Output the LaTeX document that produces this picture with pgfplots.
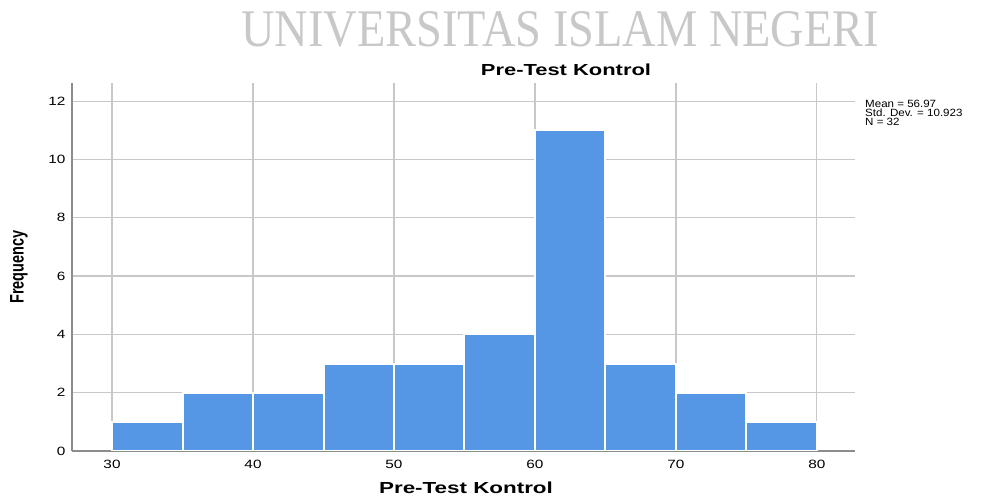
\documentclass[border=0pt]{standalone}
\usepackage{pgfplots}
\pgfplotsset{compat=1.18}
\usepackage{graphicx}
\usepackage{fontspec}
\setmainfont{Liberation Sans}
\newfontfamily\wmfont{Liberation Serif}
\definecolor{barblue}{RGB}{85,150,229}
\definecolor{gridgrey}{RGB}{200,200,200}
\definecolor{axgrey}{RGB}{140,140,140}
\definecolor{wmgrey}{RGB}{200,200,200}
\newcommand{\wide}[2]{\scalebox{#1}[1]{#2}}
\begin{document}
\begin{tikzpicture}[x=1pt,y=1pt]
\useasboundingbox (0,0) rectangle (987,495);
\node[anchor=south west, inner sep=0pt, text=wmgrey] at (241,447) {\resizebox{638pt}{35pt}{\wmfont UNIVERSITAS ISLAM NEGERI}};
\begin{axis}[
  at={(72pt,44pt)}, anchor=origin,
  scale only axis, width=783pt, height=368pt,
  xmin=27.16, xmax=82.7, ymin=0, ymax=12.62,
  axis x line*=bottom, axis y line*=left,
  axis line style={axgrey, line width=1.2pt, -},
  xtick={30,40,50,60,70,80},
  ytick={0,2,4,6,8,10,12},
  major tick length=0pt,
  xmajorgrids, ymajorgrids,
  grid style={gridgrey, line width=1.1pt},
  tick label style={font=\fontsize{12}{13}\selectfont, text=black},
  xticklabel={\wide{1.28}{\pgfmathprintnumber[assume math mode=true]{\tick}}},
  yticklabel={\wide{1.28}{\pgfmathprintnumber[assume math mode=true]{\tick}}},
  xticklabel style={yshift=-6pt},
  yticklabel style={xshift=-3pt},
]
\addplot[ybar interval, fill=barblue, draw=white, line width=2pt] coordinates {
 (30,1) (35,2) (40,2) (45,3) (50,3) (55,4) (60,11) (65,3) (70,2) (75,1) (80,1)
};
\end{axis}
\node[anchor=base, inner sep=0pt, font=\fontsize{16}{18}\selectfont\bfseries] at (566,419) {\wide{1.37}{Pre-Test Kontrol}};
\node[anchor=base, inner sep=0pt, font=\fontsize{16}{18}\selectfont\bfseries] at (466,2) {\wide{1.4}{Pre-Test Kontrol}};
\node[rotate=90, inner sep=0pt, font=\fontsize{14.5}{16}\selectfont\bfseries] at (19,228) {\scalebox{1}[1.35]{Frequency}};
\node[anchor=north west, align=left, inner sep=0pt, font=\fontsize{10.5}{9}\selectfont] at (865,395) {\wide{1.1}{Mean = 56.97}\\\wide{1.1}{Std. Dev. = 10.923}\\\wide{1.1}{N = 32}};
\end{tikzpicture}
\end{document}
